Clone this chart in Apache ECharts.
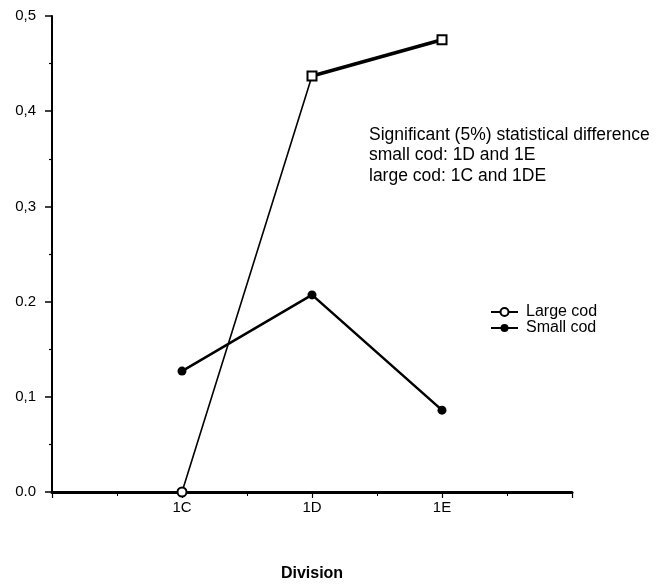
<!DOCTYPE html>
<html>
<head>
<meta charset="utf-8">
<script src="https://cdn.jsdelivr.net/npm/echarts@6/dist/echarts.min.js"></script>
<style>
  html, body { margin: 0; padding: 0; background: #fff; }
  #chart { width: 658px; height: 587px; }
</style>
</head>
<body>
<div id="chart"></div>
<script>
// Divisions along the x axis (placed at positions 1, 2, 3)
const divisions = ['1C', '1D', '1E'];
// Proportions per division
const largeCod = [0.0, 0.437, 0.475];
const smallCod = [0.127, 0.207, 0.086];
// Y tick labels as printed
const yTickLabels = ['0.0', '0,1', '0.2', '0,3', '0,4', '0,5'];
const noteLines = [
  'Significant (5%) statistical difference',
  'small cod: 1D and 1E',
  'large cod: 1C and 1DE'
];

const FONT = 'Liberation Sans, Arial, sans-serif';
const toPoints = vals => vals.map((v, i) => [i + 1, v]);

const chart = echarts.init(document.getElementById('chart'), null, { renderer: 'canvas' });

chart.setOption({
  backgroundColor: '#ffffff',
  animation: false,
  grid: { left: 52, right: 86, top: 16, bottom: 95, containLabel: false },
  xAxis: {
    type: 'value',
    min: 0, max: 4, interval: 1,
    name: 'Division',
    nameLocation: 'middle',
    nameGap: 74,
    nameTextStyle: { color: '#000', fontFamily: FONT, fontSize: 16, fontWeight: 'bold' },
    axisLine: { lineStyle: { color: '#000', width: 3 } },
    axisTick: { show: true, inside: false, length: 6, lineStyle: { color: '#000', width: 1.2 } },
    minorTick: { show: true, splitNumber: 2, length: 4, lineStyle: { color: '#000', width: 1 } },
    splitLine: { show: false },
    axisLabel: {
      color: '#000', fontFamily: FONT, fontSize: 15, margin: 8,
      formatter: v => divisions[v - 1] || ''
    }
  },
  yAxis: {
    type: 'value',
    min: 0, max: 0.5, interval: 0.1,
    axisLine: { show: true, lineStyle: { color: '#000', width: 2 } },
    axisTick: { show: true, inside: false, length: 7, lineStyle: { color: '#000', width: 1.5 } },
    minorTick: { show: true, splitNumber: 2, length: 3, lineStyle: { color: '#000', width: 1.2 } },
    splitLine: { show: false },
    axisLabel: {
      color: '#000', fontFamily: FONT, fontSize: 15, margin: 16,
      formatter: v => yTickLabels[Math.round(v * 10)]
    }
  },
  legend: {
    orient: 'vertical',
    left: 485, top: 299,
    itemWidth: 27, itemHeight: 10, itemGap: 0,
    textStyle: { color: '#000', fontFamily: FONT, fontSize: 16, lineHeight: 14, padding: [0, 0, 0, 3] },
    data: ['Large cod', 'Small cod']
  },
  series: [
    {
      name: 'Large cod',
      type: 'line',
      data: toPoints(largeCod),
      symbol: (val, p) => (p.dataIndex === 0 ? 'circle' : 'rect'),
      symbolSize: 9,
      z: 3,
      lineStyle: { color: '#000', width: 1.6 },
      itemStyle: { color: '#fff', borderColor: '#000', borderWidth: 2 }
    },
    {
      // heavier pen on the 1D–1E stretch of the large cod line
      name: 'Large cod',
      type: 'line',
      data: toPoints(largeCod).slice(1),
      symbol: 'none',
      silent: true,
      z: 2,
      lineStyle: { color: '#000', width: 3.5 }
    },
    {
      name: 'Small cod',
      type: 'line',
      data: toPoints(smallCod),
      symbol: 'circle',
      symbolSize: 9,
      lineStyle: { color: '#000', width: 2.5 },
      itemStyle: { color: '#000', borderColor: '#000', borderWidth: 0 }
    }
  ],
  graphic: noteLines.map((t, i) => ({
    type: 'text',
    left: 369,
    top: 126 + i * 20.5,
    style: { text: t, fill: '#000', font: '17.5px ' + FONT }
  }))
});
</script>
</body>
</html>
